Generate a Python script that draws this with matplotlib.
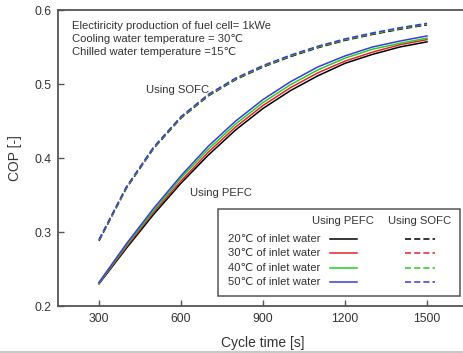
# coding utf-8
# COP vs cycle time, PEFC / SOFC


import matplotlib
matplotlib.use('Agg')
import matplotlib.pyplot as plt
from matplotlib.lines import Line2D
from matplotlib.patches import Rectangle

plt.rcParams['font.family'] = ['Liberation Sans', 'DejaVu Sans']

# Data
cycle_time = [300, 400, 500, 600, 700, 800, 900, 1000, 1100, 1200, 1300, 1400, 1500]

inlet_labels = ['20℃ of inlet water', '30℃ of inlet water',
                '40℃ of inlet water', '50℃ of inlet water']
colors = ['black', '#e8202a', '#22d022', '#3a3adf']

pefc_20 = [0.230, 0.278, 0.324, 0.366, 0.404, 0.438, 0.467, 0.491, 0.511, 0.528, 0.540, 0.550, 0.557]
pefc_30 = [0.231, 0.280, 0.327, 0.369, 0.408, 0.442, 0.471, 0.495, 0.515, 0.531, 0.543, 0.553, 0.560]
pefc_40 = [0.231, 0.282, 0.329, 0.373, 0.412, 0.446, 0.475, 0.499, 0.519, 0.535, 0.547, 0.555, 0.562]
pefc_50 = [0.232, 0.284, 0.332, 0.376, 0.416, 0.450, 0.479, 0.503, 0.523, 0.538, 0.550, 0.558, 0.565]

sofc_20 = [0.288, 0.359, 0.413, 0.454, 0.484, 0.506, 0.523, 0.537, 0.549, 0.559, 0.567, 0.574, 0.580]
sofc_30 = [0.289, 0.360, 0.414, 0.455, 0.485, 0.507, 0.524, 0.538, 0.550, 0.560, 0.568, 0.575, 0.581]
sofc_40 = [0.289, 0.360, 0.414, 0.455, 0.485, 0.507, 0.524, 0.538, 0.550, 0.560, 0.568, 0.575, 0.581]
sofc_50 = [0.290, 0.361, 0.415, 0.456, 0.486, 0.508, 0.525, 0.539, 0.551, 0.561, 0.569, 0.576, 0.582]

pefc = [pefc_20, pefc_30, pefc_40, pefc_50]
sofc = [sofc_20, sofc_30, sofc_40, sofc_50]

x_ticks = [300, 600, 900, 1200, 1500]
y_ticks = [0.2, 0.3, 0.4, 0.5, 0.6]

text_color = '#333333'
spine_color = '#555555'
fs = 8.1

fig = plt.figure(figsize=(4.63, 3.53), dpi=100)
ax = fig.add_axes([0.1253, 0.1331, 0.8855, 0.8385])

for series, c in zip(pefc, colors):
    ax.plot(cycle_time, series, color=c, lw=1.1)
for series, c in zip(sofc, colors):
    ax.plot(cycle_time, series, color=c, lw=1.1, dashes=(4, 2))

ax.set_xlim(150, 1650)
ax.set_ylim(0.2, 0.6)
ax.set_xticks(x_ticks)
ax.set_yticks(y_ticks)
ax.set_yticklabels(['%.1f' % v for v in y_ticks])
ax.tick_params(direction='in', length=4, width=1, colors=spine_color,
               labelcolor=text_color, labelsize=8.8, pad=5)
for s in ax.spines.values():
    s.set_color(spine_color)
    s.set_linewidth(1.3)

ax.set_xlabel('Cycle time [s]', fontsize=10, color=text_color, labelpad=8)
ax.set_ylabel('COP [-]', fontsize=10, color=text_color, labelpad=9)

# Notes
notes = ['Electiricity production of fuel cell= 1kWe',
         'Cooling water temperature = 30℃',
         'Chilled water temperature =15℃']
for i, t in enumerate(notes):
    ax.text(0.034, 0.946 - i * 0.044, t, transform=ax.transAxes,
            fontsize=fs, color=text_color, va='center')

ax.text(0.215, 0.73, 'Using SOFC', transform=ax.transAxes,
        fontsize=fs, color=text_color, va='center')
ax.text(0.322, 0.382, 'Using PEFC', transform=ax.transAxes,
        fontsize=fs, color=text_color, va='center')

# Legend box, drawn by hand (labels sit left of the line samples)
def fx(px):
    return (px - 58) / 410.0


def fy(py):
    return (306 - py) / 296.0


ax.add_patch(Rectangle((fx(218), fy(296)), fx(460) - fx(218), fy(209) - fy(296),
                       transform=ax.transAxes, fill=True, facecolor='white',
                       edgecolor=spine_color, lw=1.1, zorder=5))
ax.text(fx(343), fy(221), 'Using PEFC', transform=ax.transAxes, fontsize=fs,
        color=text_color, ha='center', va='center', zorder=6)
ax.text(fx(420), fy(221), 'Using SOFC', transform=ax.transAxes, fontsize=fs,
        color=text_color, ha='center', va='center', zorder=6)
for i, (lab, c) in enumerate(zip(inlet_labels, colors)):
    yy = fy(239 + i * 14.3)
    ax.text(fx(228), yy, lab, transform=ax.transAxes, fontsize=fs,
            color=text_color, va='center', zorder=6)
    ax.plot([fx(330), fx(357)], [yy, yy], transform=ax.transAxes,
            color=c, lw=1.1, zorder=6)
    ax.plot([fx(405), fx(435)], [yy, yy], transform=ax.transAxes,
            color=c, lw=1.1, dashes=(4, 2), zorder=6)

# thin grey line at the bottom of the image
fig.add_artist(Line2D([0, 1], [0.003, 0.003], transform=fig.transFigure,
                      color='#c8c8c8', lw=1.5))

fig.savefig('out.png', dpi=100)
